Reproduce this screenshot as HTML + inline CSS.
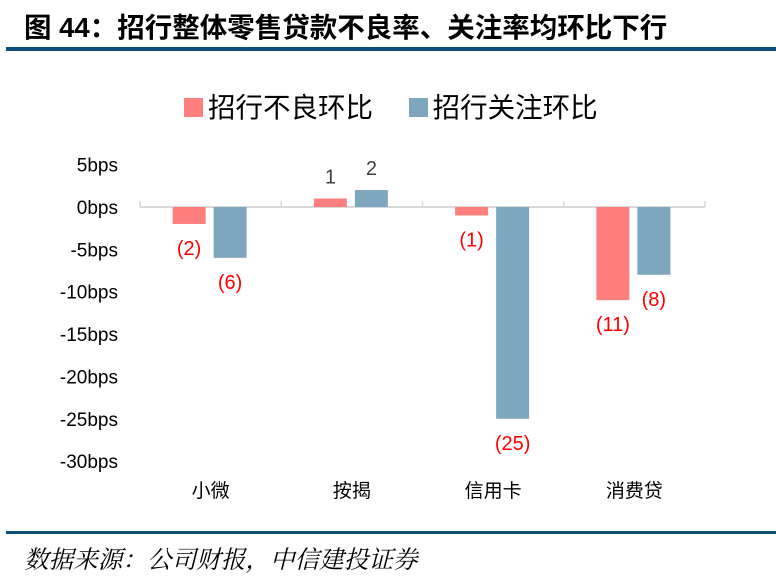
<!DOCTYPE html>
<html><head><meta charset="utf-8"><style>
body{margin:0;background:#fff;width:776px;height:579px;overflow:hidden;position:relative;font-family:"Liberation Sans","Noto Sans CJK SC",sans-serif}
.t{position:absolute;white-space:nowrap}
</style></head><body>
<div class="t" style="left:24px;top:5px;font-size:27.5px;font-weight:bold;color:#000;">图 44：招行整体零售贷款不良率、关注率均环比下行</div>
<div style="position:absolute;left:6px;top:47px;width:770px;height:4px;background:#0b4f7c"></div>
<div style="position:absolute;left:6px;top:531px;width:770px;height:3px;background:#0b4f7c"></div>
<div class="t" style="left:24px;top:541px;font-size:24.6px;font-style:italic;color:#000;font-family:'Noto Serif CJK SC',serif">数据来源：公司财报，中信建投证券</div>
<svg id="c" width="776" height="579" style="position:absolute;left:0;top:0"></svg>
<script>
const categories=["小微","按揭","信用卡","消费贷"];
const nplValues=[-2,1,-1,-11];
const watchValues=[-6,2,-25,-8];
const nplLabels=["(2)","1","(1)","(11)"];
const watchLabels=["(6)","2","(25)","(8)"];
const yTicks=[5,0,-5,-10,-15,-20,-25,-30];
const yTickLabels=["5bps","0bps","-5bps","-10bps","-15bps","-20bps","-25bps","-30bps"];
const svg=document.getElementById('c');const NS='http://www.w3.org/2000/svg';
const y=v=>207-v*8.47;
const x0=140,x1=705,bw=(x1-x0)/categories.length;
function el(t,a){const e=document.createElementNS(NS,t);for(const k in a)e.setAttribute(k,a[k]);svg.appendChild(e);return e;}
yTicks.forEach((v,i)=>{const t=el('text',{x:118,y:y(v)+7,'text-anchor':'end','font-size':19,fill:'#000','font-family':'Liberation Sans, sans-serif'});t.textContent=yTickLabels[i];

});
const ax=el('line',{x1:x0,x2:x1,y1:y(0),y2:y(0),stroke:'#d9d9d9','stroke-width':2});


for(let i=0;i<=categories.length;i++){const tk=el('line',{x1:x0+i*bw,x2:x0+i*bw,y1:y(0),y2:y(0)-6,stroke:'#d9d9d9','stroke-width':1.5});

}
categories.forEach((c,i)=>{const cx=x0+bw*(i+0.5);
const mk=(v,xl,col,lab,nm)=>{const r=el('rect',{x:xl,y:Math.min(y(0),y(v)),width:33,height:Math.abs(y(v)-y(0)),fill:col});


const neg=v<0;const t=el('text',{x:xl+16.5,y:neg?y(v)+31:y(v)-15,'text-anchor':'middle','font-size':20,fill:neg?'#ff0000':'#404040'});t.textContent=lab;

};
mk(nplValues[i],cx-38,'#ff7f7f',nplLabels[i],'bar-npl');
mk(watchValues[i],cx+3,'#7fa6bf',watchLabels[i],'bar-watch');
const t=el('text',{x:cx,y:497,'text-anchor':'middle','font-size':19,fill:'#000'});t.textContent=c;

});
</script>
<div style="position:absolute;left:184px;top:85px;font-size:27.5px;color:#000;white-space:nowrap">
<span><span style="display:inline-block;width:19px;height:19px;background:#ff7f7f;margin-right:5px;vertical-align:0px"></span>招行不良环比</span>
<span style="margin-left:28px"><span style="display:inline-block;width:19px;height:19px;background:#7fa6bf;margin-right:5px;vertical-align:0px"></span>招行关注环比</span>
</div>
</body></html>
